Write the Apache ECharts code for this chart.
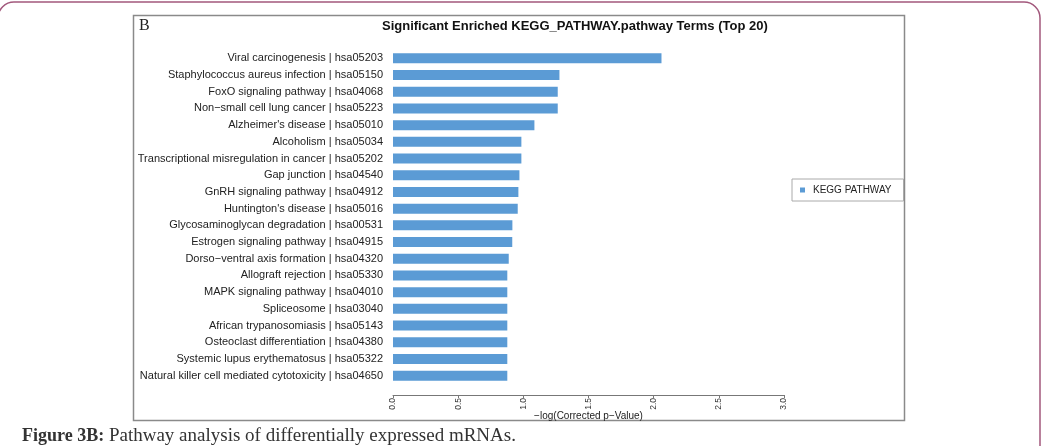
<!DOCTYPE html>
<html>
<head>
<meta charset="utf-8">
<script src="https://cdn.jsdelivr.net/npm/echarts@6/dist/echarts.min.js"></script>
<style>
  html, body { margin: 0; padding: 0; background: #fff; }
  #main { width: 1043px; height: 446px; }
</style>
</head>
<body>
<div id="main"></div>
<script>
// pathway terms, top to bottom
var pathways = [
  "Viral carcinogenesis | hsa05203",
  "Staphylococcus aureus infection | hsa05150",
  "FoxO signaling pathway | hsa04068",
  "Non\u2212small cell lung cancer | hsa05223",
  "Alzheimer's disease | hsa05010",
  "Alcoholism | hsa05034",
  "Transcriptional misregulation in cancer | hsa05202",
  "Gap junction | hsa04540",
  "GnRH signaling pathway | hsa04912",
  "Huntington's disease | hsa05016",
  "Glycosaminoglycan degradation | hsa00531",
  "Estrogen signaling pathway | hsa04915",
  "Dorso\u2212ventral axis formation | hsa04320",
  "Allograft rejection | hsa05330",
  "MAPK signaling pathway | hsa04010",
  "Spliceosome | hsa03040",
  "African trypanosomiasis | hsa05143",
  "Osteoclast differentiation | hsa04380",
  "Systemic lupus erythematosus | hsa05322",
  "Natural killer cell mediated cytotoxicity | hsa04650"
];
// -log(corrected p-value)
var logP = [2.06, 1.277, 1.264, 1.264, 1.085, 0.985, 0.985, 0.97, 0.962, 0.957,
            0.916, 0.915, 0.888, 0.877, 0.877, 0.877, 0.877, 0.877, 0.877, 0.877];
var xTicks = [0, 0.5, 1, 1.5, 2, 2.5, 3];

var chart = echarts.init(document.getElementById("main"));

var option = {
  backgroundColor: "#ffffff",
  animation: false,
  title: [
    {
      text: "Significant Enriched KEGG_PATHWAY.pathway Terms (Top 20)",
      left: 382,
      top: 20,
      padding: 0,
      textStyle: {
        fontFamily: "Liberation Sans",
        fontSize: 13,
        fontWeight: "bold",
        color: "#111",
      },
    },
    {
      text: "{b|Figure 3B:} Pathway analysis of differentially expressed mRNAs.",
      left: 22,
      top: 427,
      padding: 0,
      textStyle: {
        fontFamily: "Liberation Serif",
        fontSize: 19,
        fontWeight: "normal",
        color: "#333",
        rich: {
          b: {
            fontFamily: "Liberation Serif",
            fontSize: 18,
            fontWeight: "bold",
            color: "#333",
          },
        },
      },
    },
  ],
  legend: {
    data: ["KEGG PATHWAY"],
    left: 792,
    top: 179,
    orient: "vertical",
    padding: [6, 12, 6, 8],
    borderColor: "#aaa",
    borderWidth: 1,
    icon: "rect",
    itemWidth: 5,
    itemHeight: 5,
    itemGap: 5,
    textStyle: {
      fontFamily: "Liberation Sans",
      fontSize: 10,
      color: "#222",
      padding: [0, 0, 0, 3],
    },
  },
  grid: {
    left: 393,
    right: 259,
    top: 50,
    bottom: 62,
  },
  xAxis: {
    type: "value",
    min: 0,
    max: 3,
    interval: 0.5,
    offset: 11,
    name: "\u2212log(Corrected p\u2212Value)",
    nameLocation: "middle",
    nameGap: 16,
    nameMoveOverlap: false,
    nameTextStyle: {
      fontFamily: "Liberation Sans",
      fontSize: 10,
      color: "#222",
    },
    splitLine: { show: false },
    axisLine: {
      show: true,
      lineStyle: { color: "#777", width: 1 },
    },
    axisTick: {
      show: true,
      length: 3,
      lineStyle: { color: "#777" },
    },
    axisLabel: {
      rotate: 90,
      margin: 3,
      fontFamily: "Liberation Sans",
      fontSize: 8.5,
      color: "#333",
      formatter: function (v) {
        return v.toFixed(1);
      },
    },
  },
  yAxis: {
    type: "category",
    inverse: true,
    data: pathways,
    axisLine: { show: false },
    axisTick: { show: false },
    axisLabel: {
      margin: 10,
      fontFamily: "Liberation Sans",
      fontSize: 11,
      color: "#222",
    },
  },
  series: [
    {
      name: "KEGG PATHWAY",
      type: "bar",
      data: logP,
      barWidth: 10,
      itemStyle: { color: "#5b9bd5" },
    },
  ],
  graphic: [
    {
      type: "rect",
      shape: { x: -2, y: 2, width: 1042, height: 500, r: 16 },
      style: { fill: null, stroke: "#a2587c", lineWidth: 1.5 },
      silent: true,
    },
    {
      type: "rect",
      shape: { x: 133.5, y: 15.5, width: 771, height: 405 },
      style: { fill: null, stroke: "#8a8a8a", lineWidth: 1.5 },
      silent: true,
    },
    {
      type: "text",
      left: 139,
      top: 18,
      style: {
        text: "B",
        font: "16px 'Liberation Serif'",
        fill: "#222",
      },
    },
  ],
};

chart.setOption(option);
window.addEventListener("resize", function () {
  chart.resize();
});
</script>
</body>
</html>
